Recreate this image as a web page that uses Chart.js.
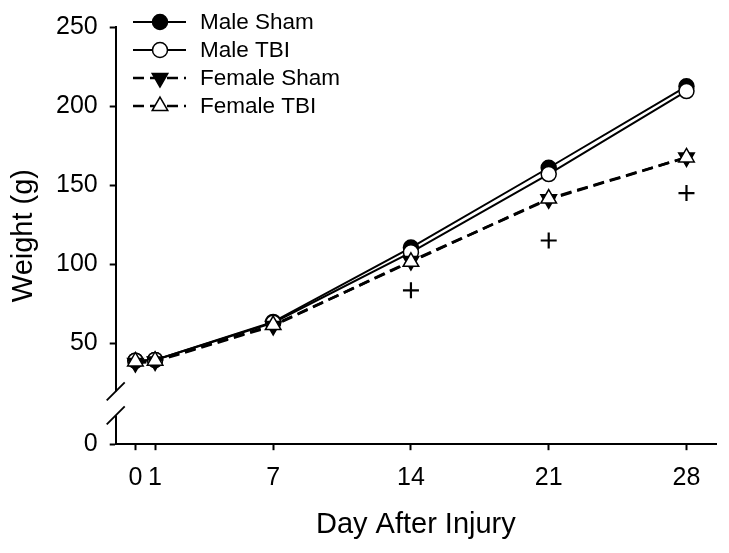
<!DOCTYPE html>
<html>
<head>
<meta charset="utf-8">
<script src="https://cdn.jsdelivr.net/npm/chart.js@4.4.1/dist/chart.umd.min.js"></script>
<style>
  html, body { margin: 0; padding: 0; background: #fff; }
  #wrap { width: 729px; height: 553px; }
</style>
</head>
<body>
<div id="wrap"><canvas id="myChart"></canvas></div>
<script>
// values (body weight, g)
const days = [0, 1, 7, 14, 21, 28];
const maleSham = [39, 39.5, 63.5, 110.5, 161, 212.5];
const maleTBI = [39, 39.5, 63, 107.5, 157, 209.5];
const femaleSham = [37.5, 38.5, 61, 102, 141, 167.5];
const femaleTBI = [38.5, 39, 61.5, 101.5, 141.5, 167.5];
// "+" significance marks
const plusDays = [14, 21, 28];
const plusValues = [83.5, 115, 145];

const xTicks = [0, 1, 7, 14, 21, 28];
const yTicks = [50, 100, 150, 200, 250];
const yTicksLow = [0];

const FONT = "'Liberation Sans', Arial, sans-serif";
Chart.defaults.font.family = FONT;
Chart.defaults.color = '#000';

const toPts = (xs, ys) => xs.map((x, i) => ({ x: x, y: ys[i] }));

// draws the y title across the whole (broken) axis
const yTitle = {
  id: 'yTitle',
  afterDraw(chart) {
    const ctx = chart.ctx, a = chart.chartArea;
    ctx.save();
    ctx.translate(24, (a.top + a.bottom) / 2);
    ctx.rotate(-Math.PI / 2);
    ctx.font = '29px ' + FONT;
    ctx.fillStyle = '#000';
    ctx.textAlign = 'center';
    ctx.textBaseline = 'middle';
    ctx.fillText('Weight (g)', 0, 0);
    ctx.restore();
  }
};

// axis break marks between the two stacked y scales
const axisBreak = {
  id: 'axisBreak',
  afterDraw(chart) {
    const ctx = chart.ctx;
    const yb = chart.scales.y.bottom;
    const x0 = chart.scales.y.right;
    ctx.save();
    ctx.fillStyle = '#fff';
    ctx.fillRect(x0 - 3, yb - 12, 6, 24);
    ctx.strokeStyle = '#000';
    ctx.lineWidth = 1.8;
    [-12, 12].forEach(d => {
      ctx.beginPath();
      ctx.moveTo(x0 - 9, yb + d + 9);
      ctx.lineTo(x0 + 9, yb + d - 9);
      ctx.stroke();
    });
    ctx.restore();
  }
};

function marker(ctx, ds, x, y) {
  const r = ds.pointRadius;
  ctx.fillStyle = ds.pointBackgroundColor;
  ctx.strokeStyle = ds.pointBorderColor;
  ctx.lineWidth = ds.pointBorderWidth;
  ctx.beginPath();
  if (ds.pointStyle === 'circle') {
    ctx.arc(x, y, r, 0, Math.PI * 2);
  } else {
    const rot = (ds.pointRotation || 0) * Math.PI / 180;
    for (let k = 0; k < 3; k++) {
      const a = rot + k * 2 * Math.PI / 3;
      const px = x + Math.sin(a) * r, py = y - Math.cos(a) * r;
      if (k === 0) ctx.moveTo(px, py); else ctx.lineTo(px, py);
    }
    ctx.closePath();
  }
  ctx.fill();
  ctx.stroke();
}

// legend with line + marker samples, like the original
const lineLegend = {
  id: 'lineLegend',
  afterDraw(chart) {
    const ctx = chart.ctx;
    const items = chart.data.datasets.filter(d => d.inLegend);
    items.forEach((ds, i) => {
      const y = 22 + i * 28;
      ctx.save();
      ctx.strokeStyle = ds.borderColor;
      ctx.lineWidth = ds.borderWidth;
      ctx.setLineDash(ds.borderDash || []);
      ctx.beginPath();
      ctx.moveTo(133, y);
      ctx.lineTo(186, y);
      ctx.stroke();
      ctx.setLineDash([]);
      marker(ctx, ds, 160, y);
      ctx.font = '22.5px ' + FONT;
      ctx.fillStyle = '#000';
      ctx.textAlign = 'left';
      ctx.textBaseline = 'middle';
      ctx.fillText(ds.label, 200, y + 1);
      ctx.restore();
    });
  }
};

const lineSet = (label, values, opts) => Object.assign({
  label: label,
  data: toPts(days, values),
  yAxisID: 'y',
  borderColor: '#000',
  borderWidth: 2,
  pointBorderColor: '#000',
  pointBorderWidth: 1.5,
  pointRadius: 7.5,
  pointHoverRadius: 7.5,
  fill: false,
  tension: 0,
  inLegend: true
}, opts);

const tickGrid = { drawOnChartArea: false, drawTicks: true, tickLength: 6, tickWidth: 2, tickColor: '#000' };
const axisBorder = { color: '#000', width: 2 };

const ctx = document.getElementById('myChart');
new Chart(ctx, {
  type: 'line',
  data: {
    datasets: [
      lineSet('Male Sham', maleSham, { pointStyle: 'circle', pointBackgroundColor: '#000', order: 4 }),
      lineSet('Male TBI', maleTBI, { pointStyle: 'circle', pointBackgroundColor: '#fff', order: 3 }),
      lineSet('Female Sham', femaleSham, { pointStyle: 'triangle', pointRotation: 180, pointRadius: 9, pointBackgroundColor: '#000', borderDash: [11, 6], borderWidth: 2.6, order: 2 }),
      lineSet('Female TBI', femaleTBI, { pointStyle: 'triangle', pointRadius: 9, pointBackgroundColor: '#fff', borderDash: [11, 6], borderWidth: 2.6, order: 1 }),
      {
        label: '+',
        data: toPts(plusDays, plusValues),
        yAxisID: 'y',
        showLine: false,
        pointStyle: 'cross',
        pointRadius: 8,
        pointBorderWidth: 2.2,
        pointBorderColor: '#000',
        borderColor: '#000',
        order: 0,
        inLegend: false
      }
    ]
  },
  options: {
    animation: false,
    responsive: true,
    maintainAspectRatio: false,
    layout: { padding: { top: 20, right: 13, left: 44, bottom: 11 } },
    plugins: { legend: { display: false }, tooltip: { enabled: false } },
    scales: {
      x: {
        type: 'linear',
        min: -1,
        max: 29.5,
        afterBuildTicks: s => { s.ticks = xTicks.map(v => ({ value: v })); },
        grid: tickGrid,
        border: axisBorder,
        ticks: { color: '#000', font: { size: 25 }, padding: 13, maxRotation: 0, autoSkip: false },
        title: { display: true, text: 'Day After Injury', color: '#000', font: { size: 29 }, padding: { top: 1, bottom: 0 } }
      },
      // lower piece of the broken axis (only the 0 tick)
      yLow: {
        type: 'linear',
        position: 'left',
        stack: 'weight',
        stackWeight: 41,
        min: 0,
        max: 26,
        afterBuildTicks: s => { s.ticks = yTicksLow.map(v => ({ value: v })); },
        grid: tickGrid,
        border: axisBorder,
        ticks: { color: '#000', font: { size: 25 }, padding: 12 }
      },
      y: {
        type: 'linear',
        position: 'left',
        stack: 'weight',
        stackWeight: 378,
        min: 12,
        max: 250,
        afterBuildTicks: s => { s.ticks = yTicks.map(v => ({ value: v })); },
        grid: tickGrid,
        border: axisBorder,
        ticks: { color: '#000', font: { size: 25 }, padding: 12 }
      }
    }
  },
  plugins: [yTitle, axisBreak, lineLegend]
});
</script>
</body>
</html>
